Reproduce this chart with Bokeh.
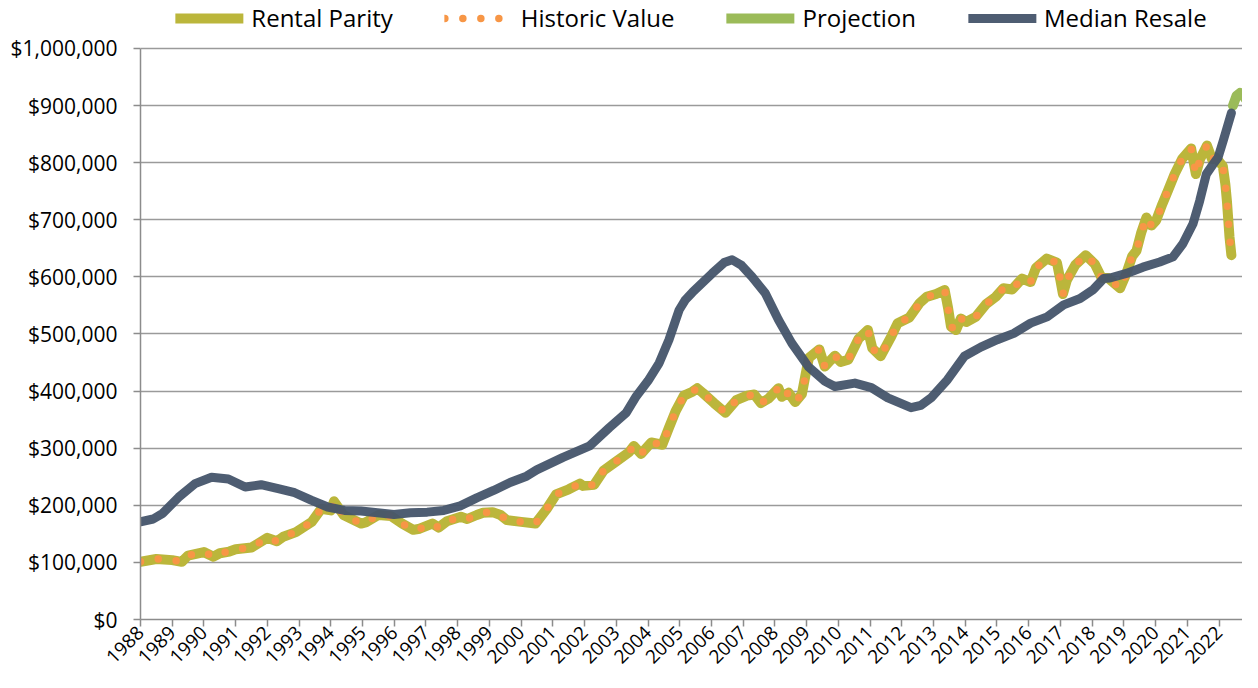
from math import pi
from bokeh.plotting import figure
from bokeh.models import (Range1d, FixedTicker, NumeralTickFormatter, Legend,
                          LegendItem, ColumnDataSource)
from bokeh.embed import file_html
from bokeh.resources import INLINE

# ---------------- data ----------------
rp_years = [1988.0, 1988.5, 1989.0, 1989.3, 1989.5, 1990.0, 1990.3, 1990.5, 1990.8,
            1991.0, 1991.5, 1992.0, 1992.3, 1992.5, 1992.9, 1993.4, 1993.7, 1994.0,
            1994.1, 1994.4, 1994.95, 1995.1, 1995.5, 1995.9, 1996.25, 1996.6, 1996.8,
            1997.2, 1997.4, 1997.66, 1998.1, 1998.3, 1998.6, 1998.8, 1999.1, 1999.35,
            1999.55, 2000.0, 2000.45, 2000.8, 2001.1, 2001.5, 2001.85, 2001.95, 2002.3,
            2002.6, 2003.0, 2003.4, 2003.55, 2003.78, 2004.1, 2004.45, 2004.66, 2004.87,
            2005.13, 2005.4, 2005.55, 2005.72, 2006.08, 2006.44, 2006.78, 2007.12,
            2007.35, 2007.56, 2007.8, 2008.11, 2008.22, 2008.43, 2008.64, 2008.85,
            2008.97, 2009.07, 2009.4, 2009.57, 2009.89, 2010.07, 2010.31, 2010.64,
            2010.93, 2011.07, 2011.33, 2011.67, 2011.87, 2012.24, 2012.56, 2012.78,
            2013.08, 2013.35, 2013.46, 2013.55, 2013.71, 2013.86, 2014.03, 2014.33,
            2014.65, 2014.96, 2015.2, 2015.48, 2015.79, 2016.06, 2016.23, 2016.57,
            2016.89, 2017.0, 2017.08, 2017.2, 2017.47, 2017.8, 2018.09, 2018.3, 2018.5,
            2018.88, 2019.08, 2019.26, 2019.4, 2019.55, 2019.71, 2019.87, 2020.02,
            2020.21, 2020.39, 2020.6, 2020.84, 2021.12, 2021.27, 2021.4, 2021.62,
            2021.78, 2021.9, 2022.12, 2022.2, 2022.25, 2022.29, 2022.33, 2022.39]
rental_parity = [101000, 106000, 104000, 101000, 112000, 118000, 110000, 116000, 119000,
                 123000, 126000, 143000, 137000, 145000, 153000, 171000, 194000, 191000,
                 207000, 183000, 168000, 170000, 183000, 181000, 168000, 157000, 159000,
                 168000, 161000, 172000, 180000, 176000, 183000, 187000, 188000, 183000,
                 174000, 171000, 168000, 193000, 219000, 228000, 238000, 234000, 236000,
                 261000, 277000, 293000, 304000, 290000, 310000, 306000, 336000, 365000,
                 392000, 399000, 405000, 397000, 379000, 362000, 384000, 392000,
                 394000, 379000, 387000, 405000, 390000, 397000, 381000, 395000,
                 430000, 458000, 473000, 443000, 462000, 451000, 455000, 492000,
                 507000, 475000, 461000, 496000, 519000, 529000, 554000, 565000,
                 570000, 577000, 545000, 513000, 507000, 527000, 521000, 530000,
                 552000, 565000, 580000, 578000, 597000, 591000, 616000, 632000,
                 625000, 594000, 570000, 594000, 621000, 638000, 622000, 598000, 598000,
                 580000, 606000, 636000, 646000, 678000, 704000, 690000, 699000,
                 727000, 751000, 780000, 807000, 825000, 780000, 806000, 830000,
                 806000, 809000, 794000, 762000, 732000, 701000, 670000, 638000]
historic_value = list(rental_parity)

proj_years = [2022.44, 2022.55, 2022.66, 2022.8, 2022.98]
projection = [900000, 917000, 922000, 915000, 899000]

mr_years = [1988.0, 1988.4, 1988.7, 1989.2, 1989.72, 1990.24, 1990.77, 1991.3, 1991.8,
            1992.34, 1992.86, 1993.38, 1993.9, 1994.43, 1994.95, 1995.47, 1995.99,
            1996.51, 1997.04, 1997.56, 1998.08, 1998.6, 1999.13, 1999.65, 2000.17,
            2000.49, 2001.32, 2002.16, 2002.78, 2003.31, 2003.63, 2004.0, 2004.35,
            2004.66, 2004.98, 2005.18, 2005.4, 2006.02, 2006.4, 2006.65, 2006.95,
            2007.28, 2007.7, 2008.11, 2008.53, 2009.05, 2009.58, 2009.89, 2010.52,
            2011.04, 2011.56, 2012.29, 2012.6, 2012.92, 2013.44, 2013.97, 2014.49,
            2015.01, 2015.53, 2016.06, 2016.58, 2017.1, 2017.62, 2018.04, 2018.36,
            2018.56, 2019.08, 2019.6, 2020.13, 2020.55, 2020.86, 2021.18, 2021.39,
            2021.6, 2021.81, 2021.97, 2022.13, 2022.39]
median_resale = [171000, 176000, 186000, 214000, 238000, 249000, 246000, 232000, 236000,
                 229000, 222000, 209000, 197000, 191000, 190000, 187000, 184000,
                 187000, 188000, 191000, 199000, 213000, 226000, 240000, 251000,
                 262000, 284000, 304000, 336000, 362000, 391000, 418000, 449000,
                 490000, 542000, 560000, 573000, 606000, 625000, 630000, 620000,
                 600000, 571000, 525000, 484000, 443000, 417000, 408000, 414000,
                 406000, 388000, 371000, 375000, 388000, 420000, 461000, 477000,
                 490000, 501000, 519000, 530000, 551000, 562000, 578000, 597000,
                 598000, 606000, 617000, 626000, 635000, 658000, 693000, 733000,
                 780000, 797000, 809000, 838000, 887000]

year_ticks = list(range(1988, 2023))
value_ticks = list(range(0, 1000001, 100000))
series_names = ["Rental Parity", "Historic Value", "Projection", "Median Resale"]

# ---------------- figure ----------------
FONT = "Open Sans"
p = figure(width=1242, height=672, output_backend="svg",
           toolbar_location=None,
           x_range=Range1d(1988, 2022.74), y_range=Range1d(0, 1084000),
           min_border_left=140, min_border_right=0, min_border_top=0,
           min_border_bottom=48)
p.outline_line_color = None
p.background_fill_color = "white"

rp_src = ColumnDataSource(dict(x=rp_years, y=rental_parity))
hv_src = ColumnDataSource(dict(x=rp_years, y=historic_value))
pr_src = ColumnDataSource(dict(x=proj_years, y=projection))
mr_src = ColumnDataSource(dict(x=mr_years, y=median_resale))

r_rp = p.line("x", "y", source=rp_src, line_color="#BBB63B", line_width=10,
              line_join="round", line_cap="round")
r_hv = p.line("x", "y", source=hv_src, line_color="#F79646", line_width=7.5,
              line_dash="0 18", line_cap="round", line_join="round")
r_pr = p.line("x", "y", source=pr_src, line_color="#9BBB59", line_width=10,
              line_join="round", line_cap="round")
r_mr = p.line("x", "y", source=mr_src, line_color="#44546A", line_width=9,
              line_join="round", line_cap="round", line_alpha=0.95)

# axes
p.xaxis.ticker = FixedTicker(ticks=year_ticks)
p.xaxis.major_label_orientation = pi / 4
p.yaxis.ticker = FixedTicker(ticks=value_ticks)
p.yaxis.formatter = NumeralTickFormatter(format="$0,0")
p.yaxis.bounds = (0, 1000000)
for ax in (p.xaxis, p.yaxis):
    ax.axis_line_color = "#8C8C8C"
    ax.axis_line_width = 1.5
    ax.major_tick_line_color = "#8C8C8C"
    ax.major_tick_line_width = 1.5
    ax.major_tick_in = 0
    ax.major_tick_out = 7
    ax.minor_tick_line_color = None
    ax.major_label_text_font = FONT
    ax.major_label_text_color = "#000000"
p.yaxis.major_label_text_font_size = "21px"
p.xaxis.major_label_text_font_size = "19px"
p.yaxis.major_label_standoff = 16
p.xaxis.major_label_standoff = 3

p.xgrid.grid_line_color = None
p.ygrid.grid_line_color = "#9A9A9A"
p.ygrid.grid_line_width = 1.6

legend = Legend(items=[LegendItem(label=series_names[0], renderers=[r_rp]),
                       LegendItem(label=series_names[1], renderers=[r_hv]),
                       LegendItem(label=series_names[2], renderers=[r_pr]),
                       LegendItem(label=series_names[3], renderers=[r_mr])],
                orientation="horizontal", location="top_center")
legend.label_text_font = FONT
legend.label_text_font_size = "24px"
legend.label_text_color = "#000000"
legend.label_height = 26
legend.border_line_color = None
legend.background_fill_alpha = 0
legend.glyph_width = 68
legend.glyph_height = 26
legend.label_standoff = 8
legend.spacing = 52
legend.padding = 0
legend.margin = 1
p.add_layout(legend, "center")

open("out.html", "w").write(file_html(p, INLINE))
